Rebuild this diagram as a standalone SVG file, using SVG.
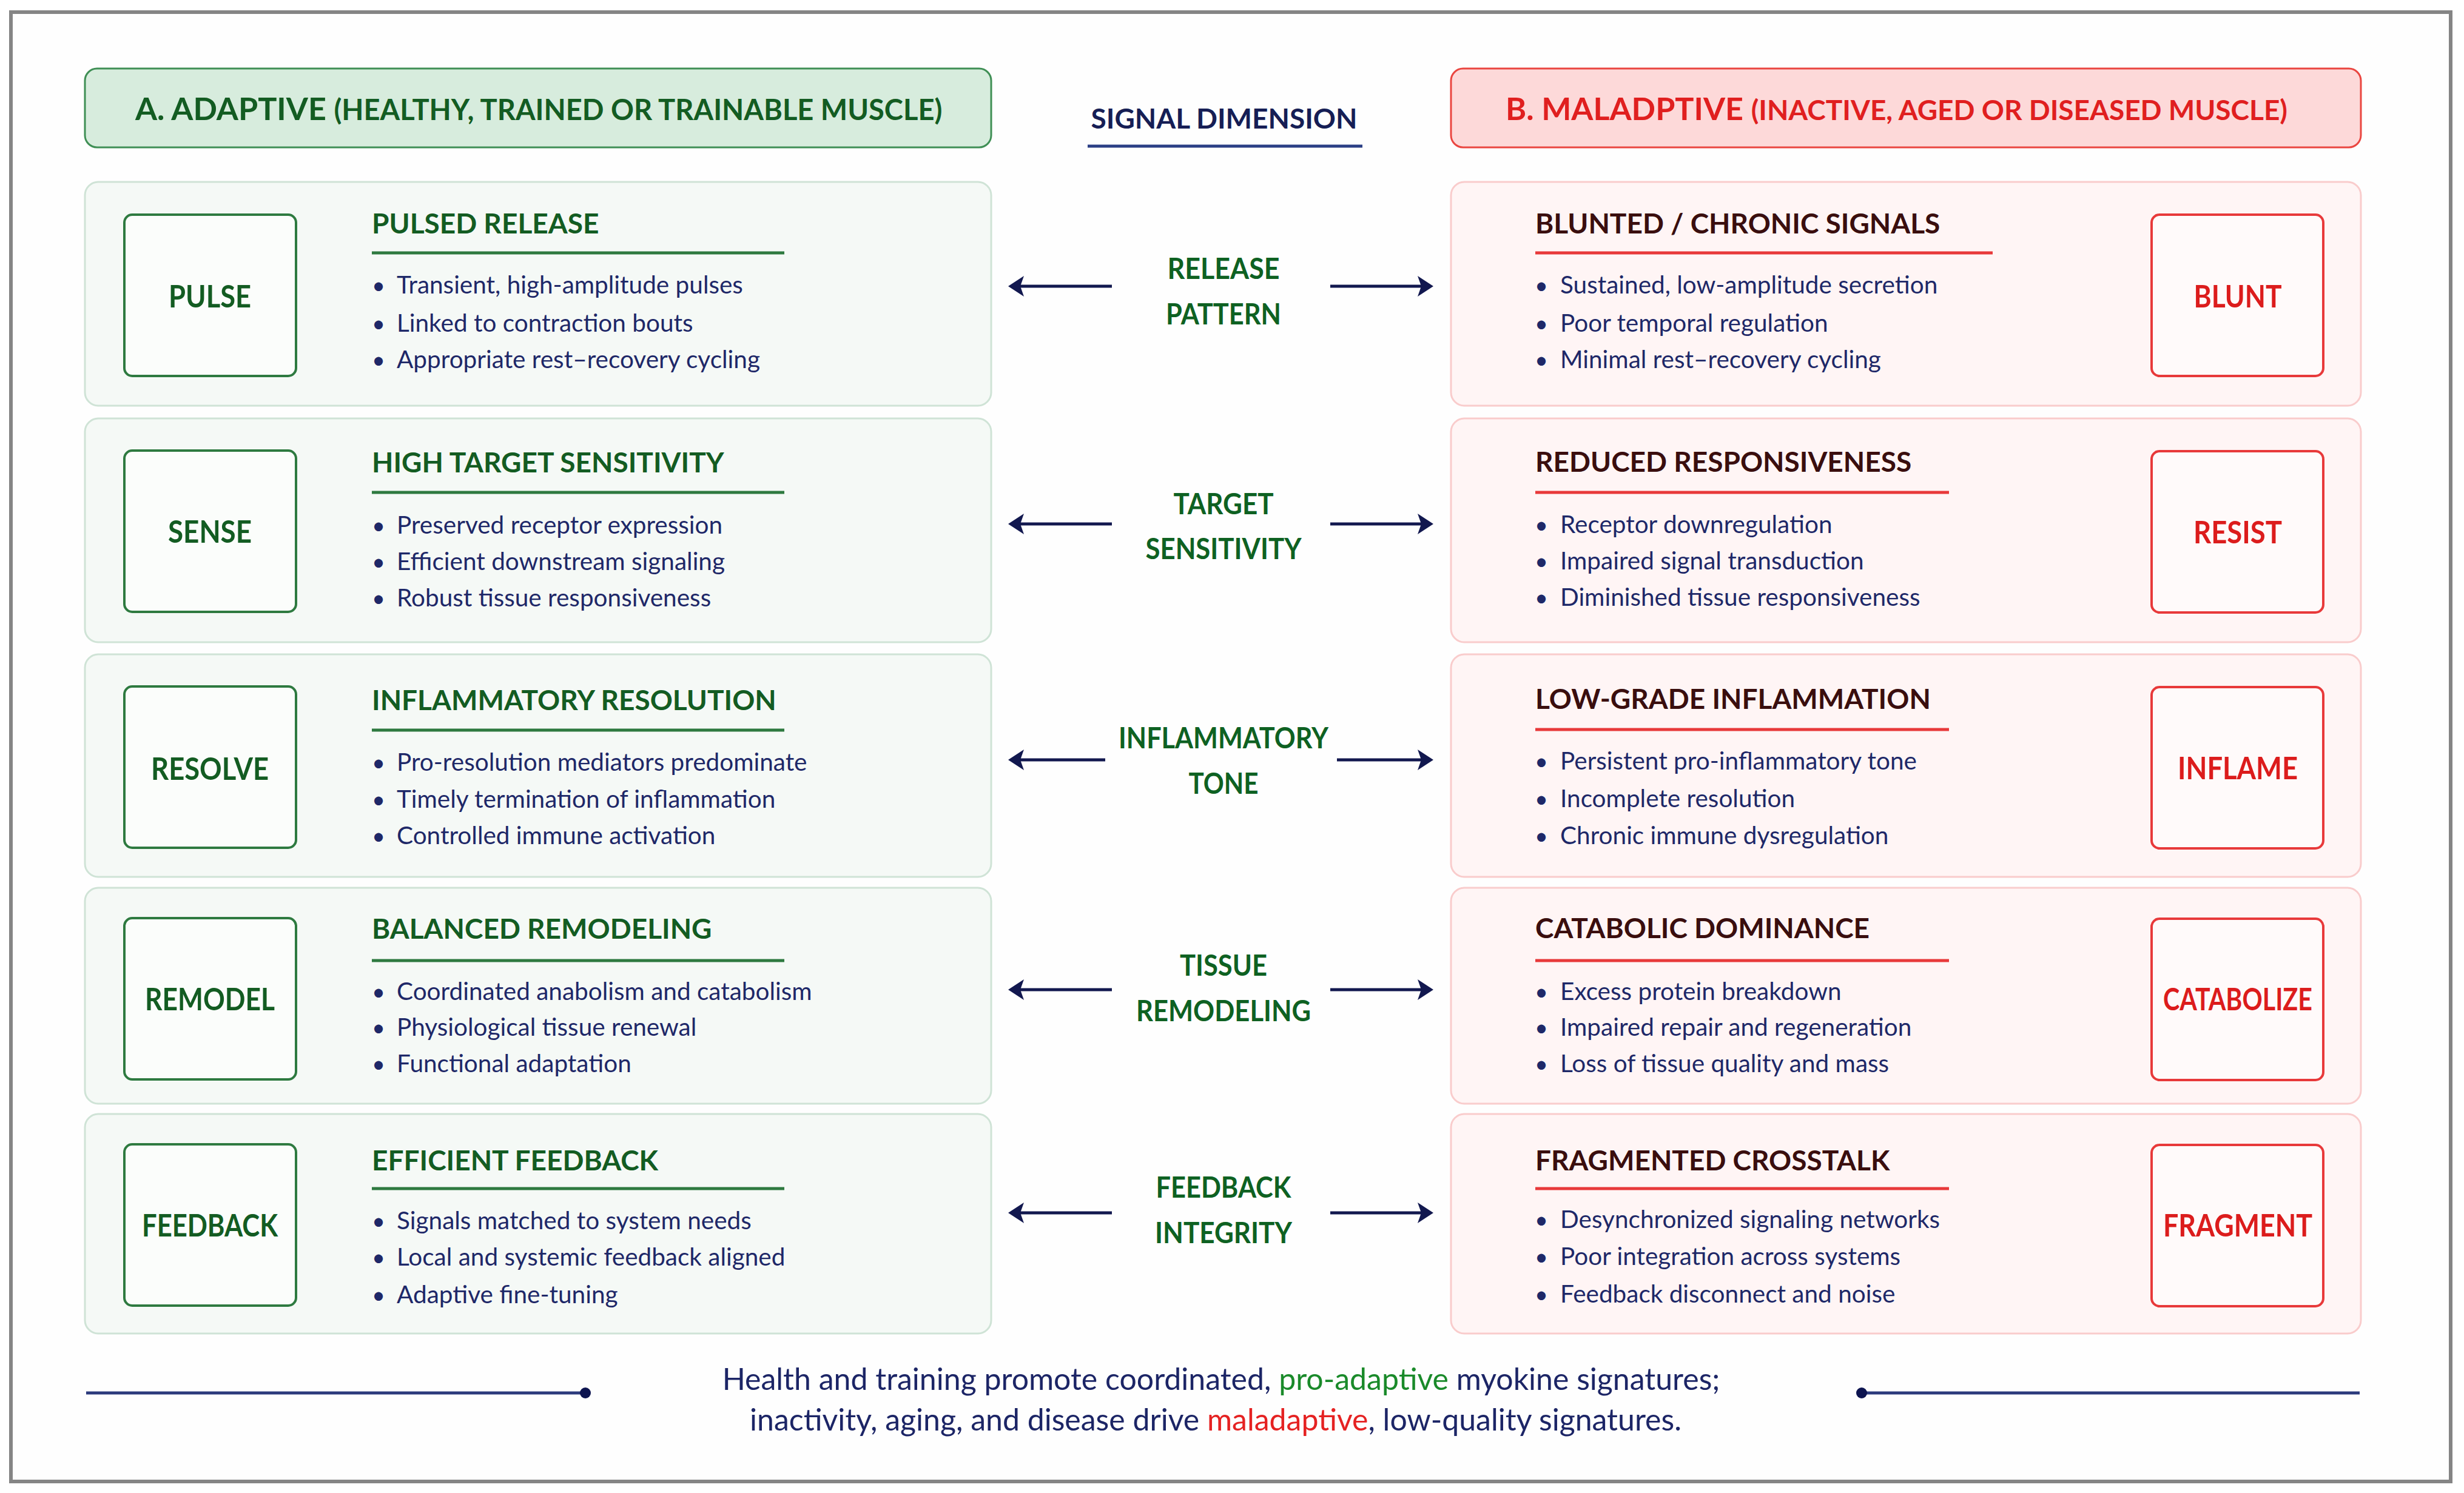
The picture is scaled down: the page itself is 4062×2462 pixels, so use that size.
<svg xmlns="http://www.w3.org/2000/svg" width="4062" height="2462" viewBox="0 0 4062 2462">
<defs>
<style>
.frame{fill:#fefefe;stroke:#858585;stroke-width:6}
.hdrA{fill:#d7ecdd;stroke:#3f8f55;stroke-width:3}
.hdrB{fill:#fdd9d9;stroke:#ea4640;stroke-width:3}
.rowA{fill:#f5f9f6;stroke:#cfe3d6;stroke-width:3}
.rowB{fill:#fff5f5;stroke:#f9cccc;stroke-width:3}
.sqA{fill:#fbfdfb;stroke:#2e7a40;stroke-width:4}
.sqB{fill:#fffafa;stroke:#e8393a;stroke-width:4}
.ulA{stroke:#2e7a40;stroke-width:5}
.ulB{stroke:#e8393a;stroke-width:5}
text{font-family:Lato,"Open Sans","Liberation Sans",sans-serif}
.hA{fill:#135c22;font-weight:700;font-size:52px}
.hB{fill:#e01f1f;font-weight:700;font-size:52px}
.hsA{font-size:47px}
.hsB{font-size:46px}
.sig{fill:#161e55;font-weight:700;font-size:46px;text-anchor:middle}
.tA{fill:#135c22;font-weight:700;font-size:46px}
.tB{fill:#3a0e0e;font-weight:700;font-size:46px}
.bul{fill:#1e2868;font-size:40.5px}
.dot{fill:#1e2868;font-size:38px;text-anchor:middle}
.lA{fill:#135c22;font-weight:700;font-size:52px;text-anchor:middle}
.lB{fill:#dc1c1c;font-weight:700;font-size:52px;text-anchor:middle}
.mid{fill:#0e6122;font-weight:700;font-size:48px;text-anchor:middle}
.foot{fill:#1c2566;font-size:50px;text-anchor:middle}
.g{fill:#1a8a2a}
.r{fill:#e52222}
.arr{stroke:#12184f;stroke-width:5;fill:none;marker-end:url(#head)}
.fl{stroke:#2b3a7c;stroke-width:5}
.fd{fill:#0d1450}
</style>
<marker id="head" viewBox="0 -18 28 36" refX="6" refY="0" markerWidth="28" markerHeight="36" markerUnits="userSpaceOnUse" orient="auto">
<path d="M0,-17 L26,0 L0,17 L6,0 Z" fill="#12184f"/>
</marker>
</defs>
<rect x="0" y="0" width="4062" height="2462" fill="#ffffff"/>
<rect class="frame" x="18" y="20" width="4022" height="2423"/>

<g id="header-adaptive">
<rect class="hdrA" x="140" y="113" width="1494" height="130" rx="20"/>
<text class="hA" x="223" y="198">A. ADAPTIVE <tspan class="hsA">(HEALTHY, TRAINED OR TRAINABLE MUSCLE)</tspan></text>
</g>
<g id="header-signal">
<text class="sig" x="2018" y="212">SIGNAL DIMENSION</text>
<line x1="1793" y1="241" x2="2246" y2="241" stroke="#2b3f85" stroke-width="5"/>
</g>
<g id="header-maladaptive">
<rect class="hdrB" x="2392" y="113" width="1500" height="130" rx="20"/>
<text class="hB" x="2482" y="198">B. MALADPTIVE <tspan class="hsB">(INACTIVE, AGED OR DISEASED MUSCLE)</tspan></text>
</g>

<!-- Row 1 -->
<g id="a-pulse">
<rect class="rowA" x="140" y="300" width="1494" height="369" rx="22"/>
<rect class="sqA" x="205" y="354" width="283" height="266" rx="13"/>
<text class="lA" x="346" y="507" textLength="136" lengthAdjust="spacingAndGlyphs">PULSE</text>
<text class="tA" x="613" y="385">PULSED RELEASE</text>
<line class="ulA" x1="613" y1="417" x2="1293" y2="417"/>
<text class="dot" x="624" y="484">•</text><text class="bul" x="654" y="484">Transient, high-amplitude pulses</text>
<text class="dot" x="624" y="547">•</text><text class="bul" x="654" y="547">Linked to contraction bouts</text>
<text class="dot" x="624" y="607">•</text><text class="bul" x="654" y="607">Appropriate rest–recovery cycling</text>
</g>
<g id="b-blunt">
<rect class="rowB" x="2392" y="300" width="1500" height="369" rx="22"/>
<rect class="sqB" x="3547" y="354" width="283" height="266" rx="13"/>
<text class="lB" x="3689" y="507" textLength="145" lengthAdjust="spacingAndGlyphs">BLUNT</text>
<text class="tB" x="2531" y="385">BLUNTED / CHRONIC SIGNALS</text>
<line class="ulB" x1="2531" y1="417" x2="3285" y2="417"/>
<text class="dot" x="2541" y="484">•</text><text class="bul" x="2572" y="484">Sustained, low-amplitude secretion</text>
<text class="dot" x="2541" y="547">•</text><text class="bul" x="2572" y="547">Poor temporal regulation</text>
<text class="dot" x="2541" y="607">•</text><text class="bul" x="2572" y="607">Minimal rest–recovery cycling</text>
</g>
<g id="dim-release">
<text class="mid" x="2017" y="460" textLength="185" lengthAdjust="spacingAndGlyphs">RELEASE</text>
<text class="mid" x="2017" y="535" textLength="190" lengthAdjust="spacingAndGlyphs">PATTERN</text>
</g>

<!-- Row 2 -->
<g id="a-sense">
<rect class="rowA" x="140" y="690" width="1494" height="369" rx="22"/>
<rect class="sqA" x="205" y="743" width="283" height="266" rx="13"/>
<text class="lA" x="346" y="895" textLength="138" lengthAdjust="spacingAndGlyphs">SENSE</text>
<text class="tA" x="613" y="779">HIGH TARGET SENSITIVITY</text>
<line class="ulA" x1="613" y1="812" x2="1293" y2="812"/>
<text class="dot" x="624" y="880">•</text><text class="bul" x="654" y="880">Preserved receptor expression</text>
<text class="dot" x="624" y="940">•</text><text class="bul" x="654" y="940">Efficient downstream signaling</text>
<text class="dot" x="624" y="1000">•</text><text class="bul" x="654" y="1000">Robust tissue responsiveness</text>
</g>
<g id="b-resist">
<rect class="rowB" x="2392" y="690" width="1500" height="369" rx="22"/>
<rect class="sqB" x="3547" y="744" width="283" height="266" rx="13"/>
<text class="lB" x="3689" y="896" textLength="146" lengthAdjust="spacingAndGlyphs">RESIST</text>
<text class="tB" x="2531" y="778">REDUCED RESPONSIVENESS</text>
<line class="ulB" x1="2531" y1="812" x2="3213" y2="812"/>
<text class="dot" x="2541" y="879">•</text><text class="bul" x="2572" y="879">Receptor downregulation</text>
<text class="dot" x="2541" y="939">•</text><text class="bul" x="2572" y="939">Impaired signal transduction</text>
<text class="dot" x="2541" y="999">•</text><text class="bul" x="2572" y="999">Diminished tissue responsiveness</text>
</g>
<g id="dim-target">
<text class="mid" x="2017" y="848" textLength="165" lengthAdjust="spacingAndGlyphs">TARGET</text>
<text class="mid" x="2017" y="922" textLength="257" lengthAdjust="spacingAndGlyphs">SENSITIVITY</text>
</g>

<!-- Row 3 -->
<g id="a-resolve">
<rect class="rowA" x="140" y="1079" width="1494" height="367" rx="22"/>
<rect class="sqA" x="205" y="1132" width="283" height="266" rx="13"/>
<text class="lA" x="346" y="1286" textLength="194" lengthAdjust="spacingAndGlyphs">RESOLVE</text>
<text class="tA" x="613" y="1171">INFLAMMATORY RESOLUTION</text>
<line class="ulA" x1="613" y1="1204" x2="1293" y2="1204"/>
<text class="dot" x="624" y="1271">•</text><text class="bul" x="654" y="1271">Pro-resolution mediators predominate</text>
<text class="dot" x="624" y="1332">•</text><text class="bul" x="654" y="1332">Timely termination of inflammation</text>
<text class="dot" x="624" y="1392">•</text><text class="bul" x="654" y="1392">Controlled immune activation</text>
</g>
<g id="b-inflame">
<rect class="rowB" x="2392" y="1079" width="1500" height="367" rx="22"/>
<rect class="sqB" x="3547" y="1133" width="283" height="266" rx="13"/>
<text class="lB" x="3689" y="1285" textLength="198" lengthAdjust="spacingAndGlyphs">INFLAME</text>
<text class="tB" x="2531" y="1169">LOW-GRADE INFLAMMATION</text>
<line class="ulB" x1="2531" y1="1203" x2="3213" y2="1203"/>
<text class="dot" x="2541" y="1269">•</text><text class="bul" x="2572" y="1269">Persistent pro-inflammatory tone</text>
<text class="dot" x="2541" y="1331">•</text><text class="bul" x="2572" y="1331">Incomplete resolution</text>
<text class="dot" x="2541" y="1392">•</text><text class="bul" x="2572" y="1392">Chronic immune dysregulation</text>
</g>
<g id="dim-inflammatory">
<text class="mid" x="2017" y="1234" textLength="346" lengthAdjust="spacingAndGlyphs">INFLAMMATORY</text>
<text class="mid" x="2017" y="1309" textLength="115" lengthAdjust="spacingAndGlyphs">TONE</text>
</g>

<!-- Row 4 -->
<g id="a-remodel">
<rect class="rowA" x="140" y="1464" width="1494" height="356" rx="22"/>
<rect class="sqA" x="205" y="1514" width="283" height="266" rx="13"/>
<text class="lA" x="346" y="1666" textLength="214" lengthAdjust="spacingAndGlyphs">REMODEL</text>
<text class="tA" x="613" y="1548">BALANCED REMODELING</text>
<line class="ulA" x1="613" y1="1584" x2="1293" y2="1584"/>
<text class="dot" x="624" y="1649">•</text><text class="bul" x="654" y="1649">Coordinated anabolism and catabolism</text>
<text class="dot" x="624" y="1708">•</text><text class="bul" x="654" y="1708">Physiological tissue renewal</text>
<text class="dot" x="624" y="1768">•</text><text class="bul" x="654" y="1768">Functional adaptation</text>
</g>
<g id="b-catabolize">
<rect class="rowB" x="2392" y="1464" width="1500" height="356" rx="22"/>
<rect class="sqB" x="3547" y="1515" width="283" height="266" rx="13"/>
<text class="lB" x="3689" y="1666" textLength="246" lengthAdjust="spacingAndGlyphs">CATABOLIZE</text>
<text class="tB" x="2531" y="1547">CATABOLIC DOMINANCE</text>
<line class="ulB" x1="2531" y1="1584" x2="3213" y2="1584"/>
<text class="dot" x="2541" y="1649">•</text><text class="bul" x="2572" y="1649">Excess protein breakdown</text>
<text class="dot" x="2541" y="1708">•</text><text class="bul" x="2572" y="1708">Impaired repair and regeneration</text>
<text class="dot" x="2541" y="1768">•</text><text class="bul" x="2572" y="1768">Loss of tissue quality and mass</text>
</g>
<g id="dim-tissue">
<text class="mid" x="2017" y="1609" textLength="144" lengthAdjust="spacingAndGlyphs">TISSUE</text>
<text class="mid" x="2017" y="1684" textLength="288" lengthAdjust="spacingAndGlyphs">REMODELING</text>
</g>

<!-- Row 5 -->
<g id="a-feedback">
<rect class="rowA" x="140" y="1837" width="1494" height="362" rx="22"/>
<rect class="sqA" x="205" y="1887" width="283" height="266" rx="13"/>
<text class="lA" x="346" y="2039" textLength="224" lengthAdjust="spacingAndGlyphs">FEEDBACK</text>
<text class="tA" x="613" y="1930">EFFICIENT FEEDBACK</text>
<line class="ulA" x1="613" y1="1960" x2="1293" y2="1960"/>
<text class="dot" x="624" y="2027">•</text><text class="bul" x="654" y="2027">Signals matched to system needs</text>
<text class="dot" x="624" y="2087">•</text><text class="bul" x="654" y="2087">Local and systemic feedback aligned</text>
<text class="dot" x="624" y="2149">•</text><text class="bul" x="654" y="2149">Adaptive fine-tuning</text>
</g>
<g id="b-fragment">
<rect class="rowB" x="2392" y="1837" width="1500" height="362" rx="22"/>
<rect class="sqB" x="3547" y="1888" width="283" height="266" rx="13"/>
<text class="lB" x="3689" y="2039" textLength="246" lengthAdjust="spacingAndGlyphs">FRAGMENT</text>
<text class="tB" x="2531" y="1930">FRAGMENTED CROSSTALK</text>
<line class="ulB" x1="2531" y1="1960" x2="3213" y2="1960"/>
<text class="dot" x="2541" y="2025">•</text><text class="bul" x="2572" y="2025">Desynchronized signaling networks</text>
<text class="dot" x="2541" y="2086">•</text><text class="bul" x="2572" y="2086">Poor integration across systems</text>
<text class="dot" x="2541" y="2148">•</text><text class="bul" x="2572" y="2148">Feedback disconnect and noise</text>
</g>
<g id="dim-feedback">
<text class="mid" x="2017" y="1975" textLength="223" lengthAdjust="spacingAndGlyphs">FEEDBACK</text>
<text class="mid" x="2017" y="2050" textLength="226" lengthAdjust="spacingAndGlyphs">INTEGRITY</text>
</g>

<g id="connectors">
<path class="arr" d="M1833,472 H1682"/>
<path class="arr" d="M2193,472 H2343"/>
<path class="arr" d="M1833,864 H1682"/>
<path class="arr" d="M2193,864 H2343"/>
<path class="arr" d="M1822,1253 H1682"/>
<path class="arr" d="M2204,1253 H2343"/>
<path class="arr" d="M1833,1632 H1682"/>
<path class="arr" d="M2193,1632 H2343"/>
<path class="arr" d="M1833,2000 H1682"/>
<path class="arr" d="M2193,2000 H2343"/>
</g>

<g id="footer">
<line class="fl" x1="142" y1="2297" x2="963" y2="2297"/>
<circle class="fd" cx="965" cy="2297" r="9"/>
<line class="fl" x1="3069" y1="2297" x2="3890" y2="2297"/>
<circle class="fd" cx="3069" cy="2297" r="9"/>
<text class="foot" x="2013" y="2292">Health and training promote coordinated, <tspan class="g">pro-adaptive</tspan> myokine signatures;</text>
<text class="foot" x="2004" y="2359">inactivity, aging, and disease drive <tspan class="r">maladaptive</tspan>, low-quality signatures.</text>
</g>
</svg>
